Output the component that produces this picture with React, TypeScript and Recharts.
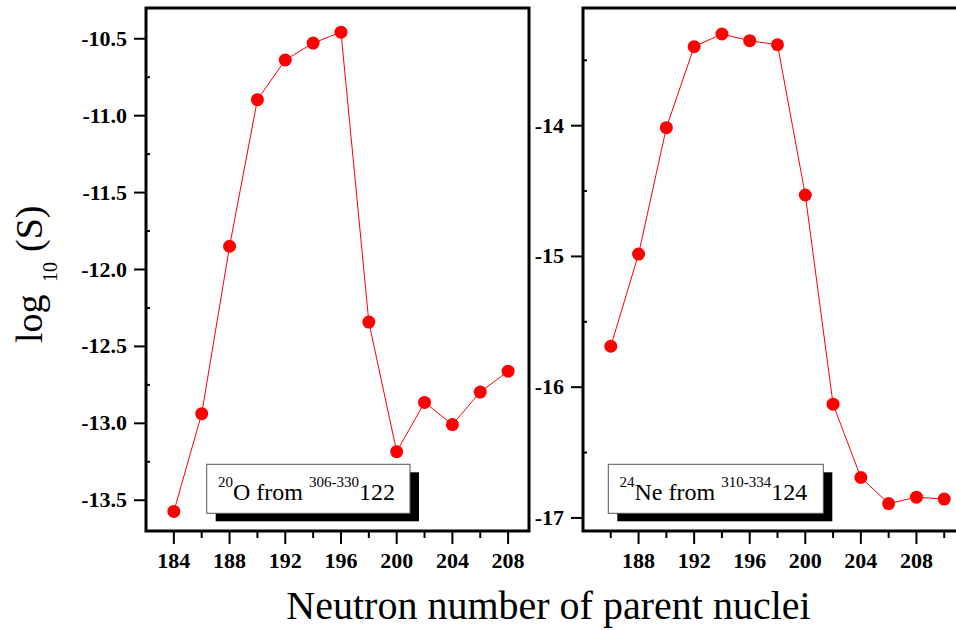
import React from 'react';
import { LineChart, Line, XAxis, YAxis, ReferenceArea } from 'recharts';

// 20O emission from 306-330 122: neutron number of parent vs log10(S)
const oNeutrons = [184, 186, 188, 190, 192, 194, 196, 198, 200, 202, 204, 206, 208];
const oLogS = [-13.573, -12.937, -11.849, -10.896, -10.638, -10.528, -10.457, -12.342, -13.184, -12.864, -13.008, -12.797, -12.661];

// 24Ne emission from 310-334 124
const neNeutrons = [186, 188, 190, 192, 194, 196, 198, 200, 202, 204, 206, 208, 210];
const neLogS = [-15.687, -14.982, -14.015, -13.396, -13.299, -13.35, -13.381, -14.53, -16.13, -16.691, -16.89, -16.841, -16.856];

// Axis ticks (every tick drawn; labelled ones are the majors)
const oXTicks = [184, 186, 188, 190, 192, 194, 196, 198, 200, 202, 204, 206, 208];
const oYTicks = [-13.5, -13.25, -13.0, -12.75, -12.5, -12.25, -12.0, -11.75, -11.5, -11.25, -11.0, -10.75, -10.5];
const neXTicks = [186, 188, 190, 192, 194, 196, 198, 200, 202, 204, 206, 208, 210];
const neYTicks = [-17, -16.5, -16, -15.5, -15, -14.5, -14, -13.5];

const oXDomain = [182, 209.5];
const oYDomain = [-13.7, -10.3];
const neXDomain = [184, 212];
const neYDomain = [-17.1, -13.1];

const oData = oNeutrons.map((n, i) => ({ n, s: oLogS[i] }));
const neData = neNeutrons.map((n, i) => ({ n, s: neLogS[i] }));

const SERIF = "'Liberation Serif', 'DejaVu Serif', serif";
const RED = '#ff0000';
const serifStyle = { fontFamily: SERIF };

const XTick = (props: any) => {
  const { x, y, payload } = props;
  const v = payload.value as number;
  const major = v % 4 === 0;
  return (
    <g>
      <line x1={x} x2={x} y1={y} y2={y + (major ? 13 : 7)} stroke="#000" strokeWidth={2} />
      {major && (
        <text x={x} y={y + 37} textAnchor="middle" fontSize={22} fontWeight="bold" style={serifStyle} fill="#000">
          {v}
        </text>
      )}
    </g>
  );
};

const makeYTick = (digits: number) => (props: any) => {
  const { x, y, payload } = props;
  const v = payload.value as number;
  const major = Math.abs(v * 2 - Math.round(v * 2)) < 1e-6 && (digits === 1 || Number.isInteger(v));
  return (
    <g>
      {major ? (
        <line x1={x - 12} x2={x} y1={y} y2={y} stroke="#000" strokeWidth={2} />
      ) : (
        <line x1={x} x2={x + 4} y1={y} y2={y} stroke="#000" strokeWidth={2} />
      )}
      {major && (
        <text x={x - 19} y={y + 7} textAnchor="end" fontSize={22} fontWeight="bold" style={serifStyle} fill="#000">
          {v.toFixed(digits)}
        </text>
      )}
    </g>
  );
};

const OYTick = makeYTick(1);
const NeYTick = makeYTick(0);

export default function App() {
  return (
    <div
      style={{
        position: 'absolute',
        left: 0,
        top: 0,
        width: 956,
        height: 630,
        overflow: 'hidden',
        background: '#fff',
        fontFamily: SERIF,
      }}
    >
      <div style={{ position: 'absolute', left: 0, top: 0 }}>
        <LineChart width={540} height={630} data={oData} margin={{ top: 8, right: 11, bottom: 0, left: 0 }}>
          <XAxis
            dataKey="n"
            type="number"
            domain={oXDomain}
            ticks={oXTicks}
            interval={0}
            height={99}
            tickSize={0}
            tickMargin={0}
            tickLine={false}
            axisLine={false}
            tick={<XTick />}
            allowDataOverflow
          />
          <YAxis
            type="number"
            domain={oYDomain}
            ticks={oYTicks}
            interval={0}
            width={146}
            tickSize={0}
            tickMargin={0}
            tickLine={false}
            axisLine={false}
            tick={<OYTick />}
            allowDataOverflow
          />
          <ReferenceArea
            x1={oXDomain[0]}
            x2={oXDomain[1]}
            y1={oYDomain[0]}
            y2={oYDomain[1]}
            fill="none"
            fillOpacity={0}
            stroke="#000"
            strokeWidth={3}
            ifOverflow="visible"
          />
          <Line
            type="linear"
            dataKey="s"
            stroke={RED}
            strokeWidth={1}
            dot={{ r: 6.5, fill: RED, stroke: 'none' }}
            activeDot={false}
            isAnimationActive={false}
          />
        </LineChart>
      </div>

      <div style={{ position: 'absolute', left: 530, top: 0 }}>
        <LineChart width={452} height={630} data={neData} margin={{ top: 8, right: 10, bottom: 0, left: 0 }}>
          <XAxis
            dataKey="n"
            type="number"
            domain={neXDomain}
            ticks={neXTicks}
            interval={0}
            height={99}
            tickSize={0}
            tickMargin={0}
            tickLine={false}
            axisLine={false}
            tick={<XTick />}
            allowDataOverflow
          />
          <YAxis
            type="number"
            domain={neYDomain}
            ticks={neYTicks}
            interval={0}
            width={53}
            tickSize={0}
            tickMargin={0}
            tickLine={false}
            axisLine={false}
            tick={<NeYTick />}
            allowDataOverflow
          />
          <ReferenceArea
            x1={neXDomain[0]}
            x2={neXDomain[1]}
            y1={neYDomain[0]}
            y2={neYDomain[1]}
            fill="none"
            fillOpacity={0}
            stroke="#000"
            strokeWidth={3}
            ifOverflow="visible"
          />
          <Line
            type="linear"
            dataKey="s"
            stroke={RED}
            strokeWidth={1}
            dot={{ r: 6.5, fill: RED, stroke: 'none' }}
            activeDot={false}
            isAnimationActive={false}
          />
        </LineChart>
      </div>

      <svg
        width={956}
        height={630}
        style={{ position: 'absolute', left: 0, top: 0, pointerEvents: 'none', fontFamily: SERIF }}
      >
        {/* legend boxes with drop shadow */}
        <rect x={215.7} y={472.3} width={203.3} height={49} fill="#000" />
        <rect x={206.7} y={464.3} width={203.3} height={49} fill="#fff" stroke="#555" strokeWidth={1} />
        <text x={218} y={500} fontSize={24} fill="#000" style={serifStyle}>
          <tspan fontSize={15} dy={-13}>20</tspan>
          <tspan dy={13}>O from </tspan>
          <tspan fontSize={15} dy={-13}>306-330</tspan>
          <tspan dy={13}>122</tspan>
        </text>

        <rect x={617.3} y={472.3} width={215} height={49} fill="#000" />
        <rect x={608.3} y={464.3} width={215} height={49} fill="#fff" stroke="#555" strokeWidth={1} />
        <text x={619.5} y={500} fontSize={24} fill="#000" style={serifStyle}>
          <tspan fontSize={15} dy={-13}>24</tspan>
          <tspan dy={13}>Ne from </tspan>
          <tspan fontSize={15} dy={-13}>310-334</tspan>
          <tspan dy={13}>124</tspan>
        </text>

        {/* axis titles */}
        <text x={548.5} y={619} textAnchor="middle" fontSize={40} fill="#000" style={serifStyle}>
          Neutron number of parent nuclei
        </text>
        <text x={42} y={343} fontSize={38} fill="#000" style={serifStyle} transform="rotate(-90 42 343)">
          log
        </text>
        <text x={57} y={282} fontSize={20} fill="#000" style={serifStyle} transform="rotate(-90 57 282)">
          10
        </text>
        <text x={42} y={252} fontSize={38} fill="#000" style={serifStyle} transform="rotate(-90 42 252)">
          (S)
        </text>
      </svg>
    </div>
  );
}
